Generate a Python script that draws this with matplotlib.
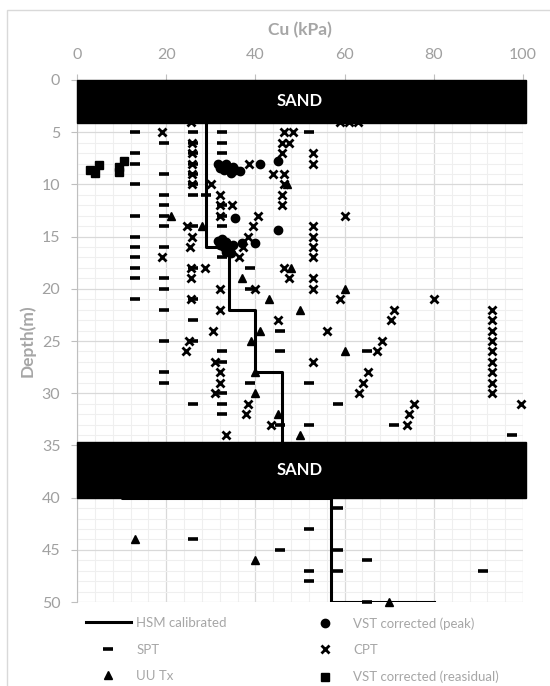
import matplotlib.pyplot as plt
from matplotlib.patches import Rectangle
from matplotlib.ticker import MultipleLocator

plt.rcParams['font.family'] = ['Lato', 'DejaVu Sans']

# HSM calibrated profile (step line)
hsm_cu = [29, 29, 34, 34, 40, 40, 46, 46, 10, 10, 57, 57, 80]
hsm_depth = [3, 16, 16, 22, 22, 28, 28, 38, 38, 40, 40, 50, 50]

# SPT
spt_cu = ([13] * 11 + [19.5] * 13 + [26] * 14 + [32.5] * 12 + [29]
          + [38.8] * 3 + [45.5] * 4 + [52] * 6 + [58.5] * 4
          + [65, 65, 65, 71, 97.5, 91])
spt_depth = ([5, 7, 8, 10, 13, 15, 16, 17, 18, 19, 21]
             + [6, 9, 11, 12, 13, 14, 16, 19, 20, 22, 25, 28, 29]
             + [5, 6, 7, 8, 9, 10, 11, 14, 18, 21, 23, 25, 31, 44]
             + [5, 6, 7, 12, 13, 14, 17, 26, 27, 30, 31, 32] + [11]
             + [18, 20, 29] + [24, 26, 33, 45] + [5, 29, 33, 43, 47, 48]
             + [31, 41, 45, 47]
             + [26, 46, 50, 33, 34, 47])

# CPT
cpt_cu = [19, 19, 25.5, 25.7, 25.7, 25.7, 25.7, 25.7, 24.7, 25.7, 25.3, 25.5,
          28.7, 25.5, 25.5, 30, 32, 32, 34.7, 32, 38.5, 40.5, 39.4, 38.4,
          37.3, 36.4, 46.5, 47.5, 32, 40, 44, 46.5, 46.5, 46, 46, 46.5, 48.5,
          46, 47.5, 46, 53, 53, 53, 53, 53, 53, 53, 53, 60, 59, 61, 63,
          32, 45, 30.4, 56, 25, 24.4, 31, 53, 32, 32, 31, 38.4, 38, 43.5,
          33.5, 59, 80, 71, 70.5, 68.3, 67.3, 65.3, 64.2, 63.3, 75.5, 74.5,
          74, 99.5, 93, 93, 93, 93, 93, 93, 93, 93, 93]
cpt_depth = [5, 17, 4, 6, 7, 8, 9, 10, 14, 15, 16, 18,
             18, 19, 21, 10, 11, 12, 12, 13, 8, 13, 14, 15,
             16, 17, 18, 19, 20, 20, 9, 9, 10, 11, 12, 5, 5,
             6, 6, 7, 7, 8, 14, 15, 16, 17, 19, 20, 13, 4, 4, 4,
             22, 23, 24, 24, 25, 26, 27, 27, 28, 29, 30, 31, 32, 33,
             34, 21, 21, 22, 23, 25, 26, 28, 29, 30, 31, 32,
             33, 31, 22, 23, 24, 25, 26, 27, 28, 29, 30]

# UU triaxial
uu_cu = [21, 28, 47, 48, 37, 60, 43, 50, 41, 39, 60, 40, 40, 45, 50, 13, 40, 70]
uu_depth = [13, 14, 10, 18, 19, 20, 21, 22, 24, 25, 26, 28, 30, 32, 34, 44, 46, 50]

# VST corrected (peak)
vst_peak_cu = [31.5, 32.5, 33.5, 34, 33, 34.5, 35.5, 36.5, 35, 32, 41, 45,
               35.5, 45,
               31.5, 32.5, 33.5, 33, 34, 34.5, 33.5, 35, 32, 37, 40]
vst_peak_depth = [8.0, 8.2, 8.0, 8.4, 8.6, 8.9, 8.6, 8.7, 8.3, 8.4, 8.0, 7.8,
                  13.2, 14.4,
                  15.4, 15.2, 15.5, 16.0, 16.2, 16.6, 16.5, 15.8, 15.8, 15.6, 15.6]

# VST corrected (residual)
vst_res_cu = [3, 5, 4, 10.5, 9.5, 9.5]
vst_res_depth = [8.6, 8.1, 8.9, 7.8, 8.3, 8.8]

sand_layers = [(0, 4.1), (34.7, 40)]

grey_text = '#a6a6a6'

fig = plt.figure(figsize=(5.5, 6.86), dpi=100)
fig.add_artist(Rectangle((7 / 550, -0.05), 1.0, 1 - 10 / 686 + 0.05,
                         transform=fig.transFigure, fill=False,
                         ec='#d9d9d9', lw=1))
ax = fig.add_axes([0.14, 0.1224, 0.811, 0.761])

ax.plot(hsm_cu, hsm_depth, color='black', lw=2.2, zorder=3,
        label='HSM calibrated')
mk = dict(ls='none', color='black', clip_on=False, zorder=4)
ax.plot(spt_cu, spt_depth, marker='_', ms=6.5, mew=2.6, label='SPT', **mk)
ax.plot(uu_cu, uu_depth, marker='^', ms=6, label='UU Tx', **mk)
ax.plot(vst_peak_cu, vst_peak_depth, marker='o', ms=6,
        label='VST corrected (peak)', **mk)
ax.plot(cpt_cu, cpt_depth, marker='x', ms=5.3, mew=2, label='CPT', **mk)
ax.plot(vst_res_cu, vst_res_depth, marker='s', ms=6,
        label='VST corrected (reasidual)', **mk)

for top, bot in sand_layers:
    ax.add_patch(Rectangle((0, top), 100.6, bot - top, color='black',
                           zorder=6, clip_on=False))
    ax.text(50, (top + bot) / 2, 'SAND', color='white', fontsize=12,
            fontweight='bold', ha='center', va='center', zorder=7)

ax.set_xlim(0, 100)
ax.set_ylim(50, 0)
ax.xaxis.tick_top()
ax.xaxis.set_label_position('top')
ax.xaxis.set_major_locator(MultipleLocator(20))
ax.xaxis.set_minor_locator(MultipleLocator(4))
ax.yaxis.set_major_locator(MultipleLocator(5))
ax.yaxis.set_minor_locator(MultipleLocator(1))
ax.grid(which='major', color='#d9d9d9', lw=0.9)
ax.grid(which='minor', color='#efefef', lw=0.8)
ax.set_axisbelow(True)
for s in ['right', 'bottom', 'top']:
    ax.spines[s].set_visible(False)
ax.spines['left'].set_color('#bfbfbf')
ax.tick_params(which='minor', length=0)
ax.tick_params(which='major', length=4, color='#bfbfbf',
               labelcolor='#a0a0a0', labelsize=11.5)
ax.tick_params(axis='x', pad=9)
ax.tick_params(axis='y', pad=8)

ax.set_xlabel('Cu (kPa)', fontsize=12.5, fontweight='bold', color=grey_text,
              labelpad=9)
ax.set_ylabel('Depth(m)', fontsize=12.5, fontweight='bold', color=grey_text,
              labelpad=4)

h, l = ax.get_legend_handles_labels()
leg_kw = dict(frameon=False, fontsize=9.5, labelcolor=grey_text,
              borderpad=0, borderaxespad=0, handlelength=3.4,
              handletextpad=0.4, labelspacing=1.1, loc='upper left')
fig.legend(h[:3], l[:3], bbox_to_anchor=(86 / 550, 1 - 617 / 686), **leg_kw)
fig.legend(h[3:], l[3:], bbox_to_anchor=(303 / 550, 1 - 617 / 686), **leg_kw)

fig.savefig('out.png', dpi=100)
